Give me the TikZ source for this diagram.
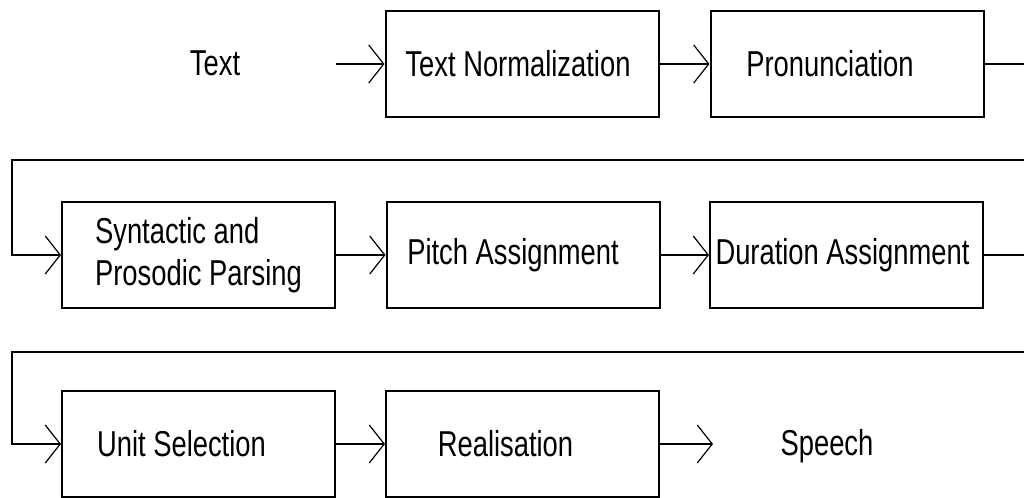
\documentclass[tikz,border=0pt]{standalone}
\usepackage{fontspec}
\setmainfont{Liberation Sans}[FakeStretch=0.76]
\usetikzlibrary{arrows.meta}
\begin{document}
\begin{tikzpicture}[x=0.5pt,y=-0.5pt,
  box/.style={draw, line width=1pt, minimum width=136.5pt, minimum height=53pt, inner sep=0pt, font=\fontsize{18}{21}\selectfont, align=left},
  lbl/.style={font=\fontsize{18}{21}\selectfont, inner sep=0pt},
  conn/.style={line width=1pt},
  arr/.style={conn, -{Straight Barb[length=7.5pt,width=19pt,line width=0.6pt]}}]
\useasboundingbox[fill=white] (0,0) rectangle (1024,498);
% nodes
\node[lbl] (text) at (215,63) {Text};
\node[box] (tn) at (522,64) {Text Normalization\hspace*{4pt}};
\node[box] (pr) at (847,64) {Pronunciation\hspace*{17pt}};
\node[box] (sp) at (198.5,255) {Syntactic and\\Prosodic Parsing};
\node[box] (pa) at (523,255) {Pitch Assignment\hspace*{10pt}};
\node[box] (da) at (846.5,255) {Duration Assignment\hspace*{4pt}};
\node[box] (us) at (198.5,444) {Unit Selection\hspace*{17pt}};
\node[box] (re) at (522.5,444) {Realisation\hspace*{17pt}};
\node[lbl] (speech) at (827,446) {Speech};
% free ends
\coordinate (tin) at (336,64);
\coordinate (r1out) at (1024,64);
\coordinate (r2in) at (1024,160);
\coordinate (r2c) at (12,160);
\coordinate (r2out) at (1024,255);
\coordinate (r3in) at (1024,352);
\coordinate (r3c) at (12,352);
\coordinate (sout) at (713,444);
% connectors
\draw[arr] (tin) -- (tn.west);
\draw[arr] (tn.east) -- (pr.west);
\draw[conn] (pr.east) -- (r1out);
\draw[arr] (r2in) -- (r2c) |- (sp.west);
\draw[arr] (sp.east) -- (pa.west);
\draw[arr] (pa.east) -- (da.west);
\draw[conn] (da.east) -- (r2out);
\draw[arr] (r3in) -- (r3c) |- (us.west);
\draw[arr] (us.east) -- (re.west);
\draw[arr] (re.east) -- (sout);
\end{tikzpicture}
\end{document}
